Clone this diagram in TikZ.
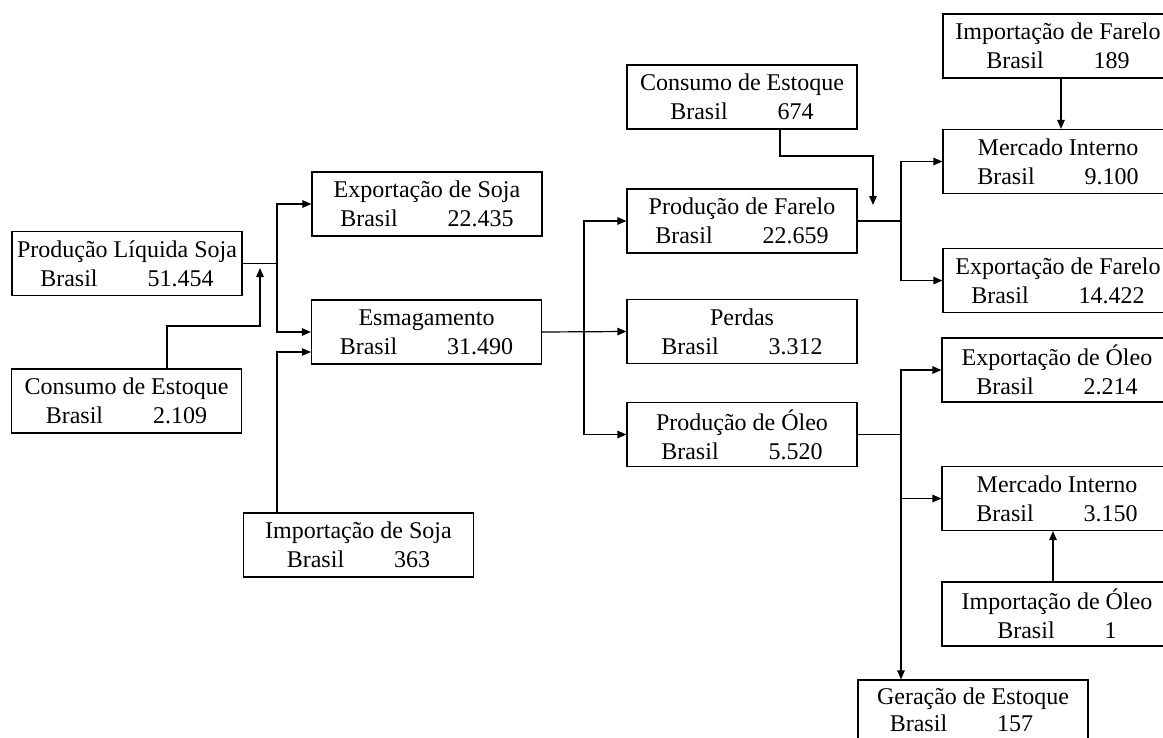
\documentclass[tikz,border=0pt]{standalone}
\usepackage{fontspec}
\setmainfont{Liberation Serif}
\usetikzlibrary{arrows.meta,calc}
% second text line of every box: "Brasil", a gap, then the quantity
\newcommand\brline[2][0pt]{Brasil\hspace{50pt}#2\hspace*{#1}}
\begin{document}
\begin{tikzpicture}[x=1pt,y=-1pt,
  box/.style={draw, line width=1.2pt, minimum width=230pt, minimum height=64pt,
    inner sep=0pt, align=center, font=\fontsize{24}{29}\selectfont},
  flow/.style={line width=1.2pt},
  tip/.style={flow, -{Triangle[length=9pt,width=7.5pt]}}
]
\clip (0,0) rectangle (1163,737);

% ---- soybean stage ----
\node[box] (pls) at (127,263.5) {Produção Líquida Soja\\\brline{51.454}};
\node[box] (ceA) at (126.5,401) {Consumo de Estoque\\\brline{2.109}};
\node[box] (exs) at (427,204)   {Exportação de Soja\\\brline{22.435}};
\node[box] (esm) at (426.5,332) {Esmagamento\\\brline{31.490}};
\node[box] (ims) at (358.5,545) {Importação de Soja\\\brline{363}};

% ---- crushing products ----
\node[box] (ceB) at (742,97)    {Consumo de Estoque\\\brline{674}};
\node[box] (pfa) at (742,221)   {Produção de Farelo\\\brline{22.659}};
\node[box] (per) at (742,331.5) {Perdas\\\brline{3.312}};
\node[box] (pol) at (742,434.5) {Produção de Óleo\\\brline{5.520}};

% ---- meal and oil destinations ----
\node[box] (imf) at (1058,46)    {Importação de Farelo\\\brline{189}};
\node[box] (mif) at (1058,161.5) {Mercado Interno\\\brline{9.100}};
\node[box] (exf) at (1058,280.5) {Exportação de Farelo\\\brline{14.422}};
\node[box] (exo) at (1057,370)   {Exportação de Óleo\\\brline{2.214}};
\node[box] (mio) at (1057,498.5) {Mercado Interno\\\brline{3.150}};
\node[box] (imo) at (1057,614)   {Importação de Óleo\\\brline{1}};
\node[box, minimum height=60pt, font=\fontsize{24}{27}\selectfont] (ger) at (973,710)
  {Geração de Estoque\\\brline[23pt]{157}};

% ---- junction points and bends ----
\coordinate (jS) at (277,263.5);
\coordinate (ceAbend) at (167,326);
\coordinate (ceAtip) at (260,268);
\coordinate (jE) at (584,332);
\coordinate (jF) at (901,221);
\coordinate (ceBbend) at (780,156);
\coordinate (ceBtip) at (873,205);
\coordinate (xImF) at (1061,0);
\coordinate (jO) at (901,434.5);
\coordinate (xImO) at (1053,0);

% soybean supply split
\draw[flow] (pls.east) -- (jS);
\draw[tip] (jS) |- (exs.west);
\draw[tip] (jS) |- (esm.west);
\draw[tip] (ims.north -| jS) |- ($(esm.west)+(0,20)$);
\draw[tip] (ceA.north -| ceAbend) -- (ceAbend) -| (ceAtip);

% crushing split
\draw[tip] (esm.east) -- (per.west);
\draw[tip] (jE) |- (pfa.west);
\draw[tip] (jE) |- (pol.west);

% meal split
\draw[flow] (pfa.east) -- (jF);
\draw[tip] (jF) |- (mif.west);
\draw[tip] (jF) |- (exf.west);
\draw[tip] (ceB.south -| ceBbend) -- (ceBbend) -| (ceBtip);
\draw[tip] (imf.south -| xImF) -- (mif.north -| xImF);

% oil split
\draw[flow] (pol.east) -- (jO);
\draw[tip] (jO) |- (exo.west);
\draw[tip] (jO) |- (mio.west);
\draw[tip] (jO) -- (jO |- ger.north);
\draw[tip] (imo.north -| xImO) -- (mio.south -| xImO);
\end{tikzpicture}
\end{document}
